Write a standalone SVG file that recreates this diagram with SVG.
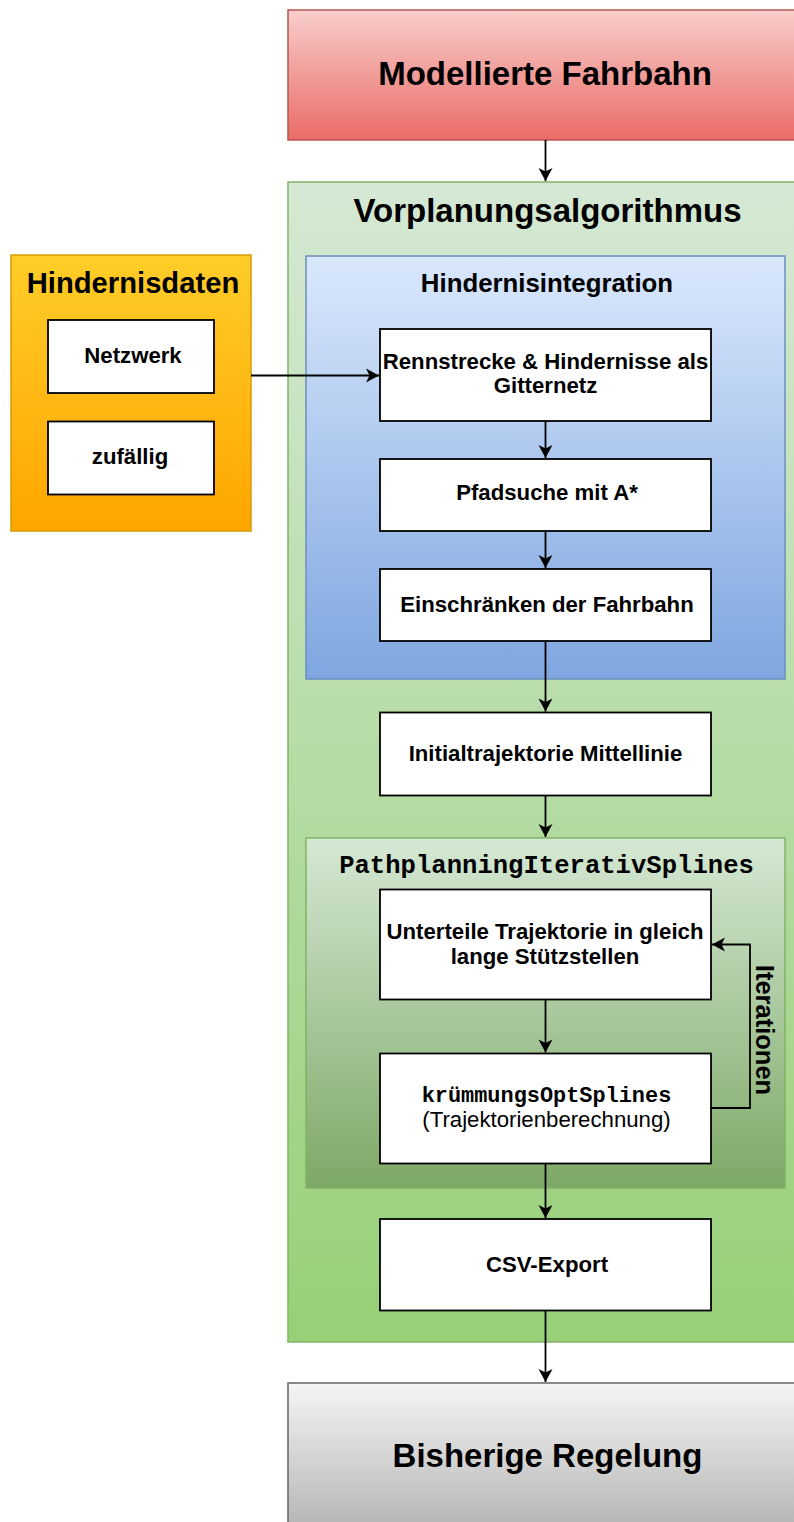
<svg xmlns="http://www.w3.org/2000/svg" width="794" height="1522" viewBox="0 0 794 1522">
  <defs>
    <linearGradient id="gRed" x1="0" y1="0" x2="0" y2="1">
      <stop offset="0" stop-color="#f8cecc"/>
      <stop offset="1" stop-color="#ea6b66"/>
    </linearGradient>
    <linearGradient id="gGreen" x1="0" y1="0" x2="0" y2="1">
      <stop offset="0" stop-color="#d5e8d4"/>
      <stop offset="1" stop-color="#97d077"/>
    </linearGradient>
    <linearGradient id="gBlue" x1="0" y1="0" x2="0" y2="1">
      <stop offset="0" stop-color="#dae8fc"/>
      <stop offset="1" stop-color="#7ea6e0"/>
    </linearGradient>
    <linearGradient id="gOrange" x1="0" y1="0" x2="0" y2="1">
      <stop offset="0" stop-color="#ffcd28"/>
      <stop offset="1" stop-color="#ffa500"/>
    </linearGradient>
    <linearGradient id="gDarkGreen" x1="0" y1="0" x2="0" y2="1">
      <stop offset="0" stop-color="#d5e8d4"/>
      <stop offset="1" stop-color="#7ea866"/>
    </linearGradient>
    <linearGradient id="gGray" x1="0" y1="0" x2="0" y2="1">
      <stop offset="0" stop-color="#f5f5f5"/>
      <stop offset="1" stop-color="#b3b3b3"/>
    </linearGradient>
    <marker id="arrow" markerUnits="userSpaceOnUse" viewBox="-14 -8 15 16" markerWidth="15" markerHeight="16" refX="0" refY="0" orient="auto">
      <path d="M0,0 L-13,-7 L-9.5,0 L-13,7 Z" fill="#000"/>
    </marker>
  </defs>
  <style>
    .box { fill: #ffffff; stroke: #000000; stroke-width: 1.8; }
    .t { font-family: "Liberation Sans", Arial, Helvetica, sans-serif; font-weight: bold; fill: #000; text-anchor: middle; }
    .mono { font-family: "Liberation Mono", "Courier New", monospace; font-weight: bold; fill: #000; text-anchor: middle; }
    .reg { font-family: "Liberation Sans", Arial, Helvetica, sans-serif; fill: #000; text-anchor: middle; }
    .big { font-size: 33px; }
    .mid { font-size: 25.8px; }
    .sm { font-size: 22.2px; }
    .conn { fill: none; stroke: #000; stroke-width: 1.8; marker-end: url(#arrow); }
  </style>

  <!-- input: modelled track -->
  <g id="modellierte-fahrbahn">
    <rect x="288" y="10" width="516" height="130" fill="url(#gRed)" stroke="#b85450" stroke-width="1.5"/>
    <text class="t big" x="545" y="85">Modellierte Fahrbahn</text>
  </g>

  <!-- main algorithm container -->
  <g id="vorplanungsalgorithmus">
    <rect x="288" y="182" width="516" height="1160" fill="url(#gGreen)" stroke="#82b366" stroke-width="1.5"/>
    <text class="t big" x="547.5" y="222">Vorplanungsalgorithmus</text>
  </g>

  <!-- obstacle data source -->
  <g id="hindernisdaten">
    <rect x="11" y="255" width="240" height="276" fill="url(#gOrange)" stroke="#d79b00" stroke-width="1.5"/>
    <text class="t" font-size="29.2" x="133" y="293">Hindernisdaten</text>
  </g>
  <g id="netzwerk">
    <rect class="box" x="48" y="320" width="166" height="73"/>
    <text class="t sm" x="133" y="363">Netzwerk</text>
  </g>
  <g id="zufaellig">
    <rect class="box" x="48" y="421.5" width="166" height="73"/>
    <text class="t sm" x="130" y="464">zufällig</text>
  </g>

  <!-- obstacle integration block -->
  <g id="hindernisintegration">
    <rect x="306" y="256" width="479" height="423" fill="url(#gBlue)" stroke="#6c8ebf" stroke-width="1.5"/>
    <text class="t mid" x="547" y="291.5">Hindernisintegration</text>
  </g>
  <g id="gitternetz">
    <rect class="box" x="380" y="329" width="331" height="92"/>
    <text class="t sm" x="545.5" y="369">Rennstrecke &amp; Hindernisse als</text>
    <text class="t sm" x="545.5" y="393">Gitternetz</text>
  </g>
  <g id="pfadsuche">
    <rect class="box" x="380" y="459" width="331" height="72"/>
    <text class="t sm" x="547" y="500">Pfadsuche mit A*</text>
  </g>
  <g id="einschraenken">
    <rect class="box" x="380" y="569" width="331" height="72"/>
    <text class="t sm" x="547" y="611.5">Einschränken der Fahrbahn</text>
  </g>

  <g id="initialtrajektorie">
    <rect class="box" x="380" y="712.5" width="331" height="83"/>
    <text class="t sm" x="545.5" y="761">Initialtrajektorie Mittellinie</text>
  </g>

  <!-- iterative spline planning block -->
  <g id="pathplanning">
    <rect x="306" y="838" width="479" height="350" fill="url(#gDarkGreen)" stroke="#82b366" stroke-width="1.5"/>
    <text class="mono" font-size="25.6" x="546.5" y="873">PathplanningIterativSplines</text>
  </g>
  <g id="unterteile">
    <rect class="box" x="380" y="889.5" width="331" height="110"/>
    <text class="t sm" x="545" y="938.5">Unterteile Trajektorie in gleich</text>
    <text class="t sm" x="545" y="963.5">lange Stützstellen</text>
  </g>
  <g id="kruemmung">
    <rect class="box" x="380" y="1053.5" width="331" height="110"/>
    <text class="mono" font-size="21.9" x="546.5" y="1101.5">krümmungsOptSplines</text>
    <text class="reg sm" x="546.5" y="1126.5">(Trajektorienberechnung)</text>
  </g>

  <g id="csv-export">
    <rect class="box" x="380" y="1219" width="331" height="91.5"/>
    <text class="t sm" x="547" y="1272">CSV-Export</text>
  </g>

  <!-- output: existing controller -->
  <g id="bisherige-regelung">
    <rect x="288" y="1383" width="516" height="150" fill="url(#gGray)" stroke="#666666" stroke-width="1.5"/>
    <text class="t big" x="547.5" y="1467">Bisherige Regelung</text>
  </g>

  <!-- connectors -->
  <g id="connectors">
    <path class="conn" d="M545.5,140 V181"/>
    <path class="conn" d="M251,375.5 H379"/>
    <path class="conn" d="M545.5,421 V458"/>
    <path class="conn" d="M545.5,531 V568"/>
    <path class="conn" d="M545.5,641 V711.5"/>
    <path class="conn" d="M545.5,795.5 V837"/>
    <path class="conn" d="M545.5,999.5 V1052.5"/>
    <path class="conn" d="M545.5,1163.5 V1218"/>
    <path class="conn" d="M545.5,1310.5 V1382"/>
    <path class="conn" d="M711,1108 H750 V944.5 H712"/>
    <text class="t" font-size="25.5" transform="translate(755.5,1030) rotate(90)">Iterationen</text>
  </g>
</svg>
